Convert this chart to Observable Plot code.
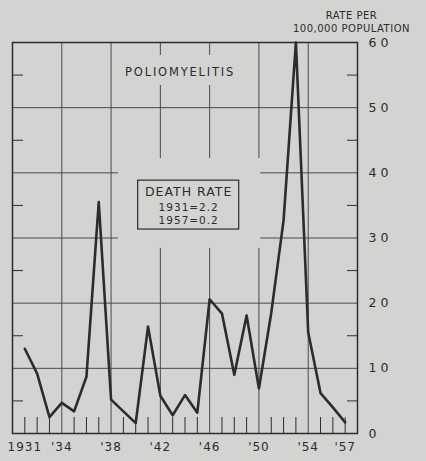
<!DOCTYPE html>
<html><head><meta charset="utf-8">
<script src="https://cdn.jsdelivr.net/npm/d3@7"></script>
<script src="https://cdn.jsdelivr.net/npm/@observablehq/plot@0.6"></script>
<style>
html,body{margin:0;padding:0;background:#d3d3d1;}
svg{display:block;}
svg text{letter-spacing:1px;}
g[aria-label="y-axis tick label"] text{letter-spacing:4px;}
g.ytitle text{letter-spacing:0.5px;}
g.ctitle text{letter-spacing:1.8px;}
</style></head><body><div id="chart"></div>
<script>
const years = [1931,1932,1933,1934,1935,1936,1937,1938,1939,1940,1941,1942,1943,1944,1945,1946,1947,1948,1949,1950,1951,1952,1953,1954,1955,1956,1957];
const rates = [13.0,9.2,2.5,4.7,3.4,8.7,35.5,5.2,3.4,1.6,16.4,5.8,2.8,5.9,3.2,20.6,18.4,9.0,18.1,6.9,18.5,32.7,60.0,15.5,6.2,4.0,1.7];
const gridYears = [1934,1938,1942,1946,1950,1954];
const gridRates = [10,20,30,40,50];
const minorRates = [5,15,25,35,45,55];
const yTicks = [0,10,20,30,40,50,60];
const xTickYears = [1931,1934,1938,1942,1946,1950,1954,1957];
const xTickLabels = ["1931","'34","'38","'42","'46","'50","'54","'57"];
const yAxisTitle = ["RATE PER","100,000 POPULATION"];
const chartTitle = ["POLIOMYELITIS"];
const noteLines = ["DEATH RATE","1931=2.2","1957=0.2"];

const bg = "#d3d3d1";
const ink = "#2c2c2c";
const data = years.map((y,i)=>({year:y, rate:rates[i]}));
const minorYears = years.filter(y => !gridYears.includes(y));
const labelMap = new Map(xTickYears.map((y,i)=>[y, xTickLabels[i]]));

// annotation placement (data coordinates)
const titleAnno = [{x:1943.6, y:55.5, text:chartTitle[0]}];
const titleCover = [{x1:1938.8, x2:1949.3, y1:53.4, y2:58.0}];
const noteCover = [{x1:1938.6, x2:1950.15, y1:28.4, y2:42.2}];
const noteBox = [{x1:1940.2, x2:1948.4, y1:31.3, y2:38.8}];
const noteAnno = [
  {x:1944.3, y:37.0, text:noteLines[0], size:12.5},
  {x:1944.3, y:34.7, text:noteLines[1], size:10.5},
  {x:1944.3, y:32.7, text:noteLines[2], size:10.5}
];

const chart = Plot.plot({
  width:426, height:461,
  marginLeft:12, marginRight:69, marginTop:42, marginBottom:28,
  x:{domain:[1930,1958]},
  y:{domain:[0,60]},
  style:{background:bg, color:ink, fontFamily:"'DejaVu Sans', sans-serif"},
  marks:[
    Plot.ruleX(gridYears, {stroke:"#4a4a4a", strokeWidth:1}),
    Plot.ruleY(gridRates, {stroke:"#4a4a4a", strokeWidth:1}),
    Plot.rect(titleCover, {x1:"x1", x2:"x2", y1:"y1", y2:"y2", fill:bg}),
    Plot.rect(noteCover, {x1:"x1", x2:"x2", y1:"y1", y2:"y2", fill:bg}),
    Plot.rect(noteBox, {x1:"x1", x2:"x2", y1:"y1", y2:"y2", fill:"none", stroke:ink, strokeWidth:1.2}),
    Plot.frame({stroke:ink, strokeWidth:1.5}),
    Plot.axisY(minorRates, {anchor:"left", tickSize:-11, fill:"none", label:null}),
    Plot.axisY(minorRates, {anchor:"right", tickSize:-11, fill:"none", label:null}),
    Plot.axisX(minorYears, {anchor:"bottom", tickSize:-16, fill:"none", label:null}),
    Plot.axisX(xTickYears, {anchor:"bottom", tickSize:0, tickPadding:9, tickFormat:d => labelMap.get(d), label:null, fontSize:12}),
    Plot.axisY(yTicks, {anchor:"right", tickSize:0, tickPadding:11, label:null, fontSize:12.5}),
    Plot.text([yAxisTitle.join("\n")], {frameAnchor:"top-right", dx:-6, dy:-21.5, textAnchor:"middle", lineAnchor:"middle", fontSize:10, lineHeight:1.3, className:"ytitle"}),
    Plot.text(titleAnno, {x:"x", y:"y", text:"text", fontSize:11.5, className:"ctitle"}),
    Plot.text(noteAnno, {x:"x", y:"y", text:"text", fontSize:d => d.size}),
    Plot.line(data, {x:"year", y:"rate", stroke:ink, strokeWidth:2.6})
  ]
});
document.getElementById("chart").append(chart);
</script></body></html>
